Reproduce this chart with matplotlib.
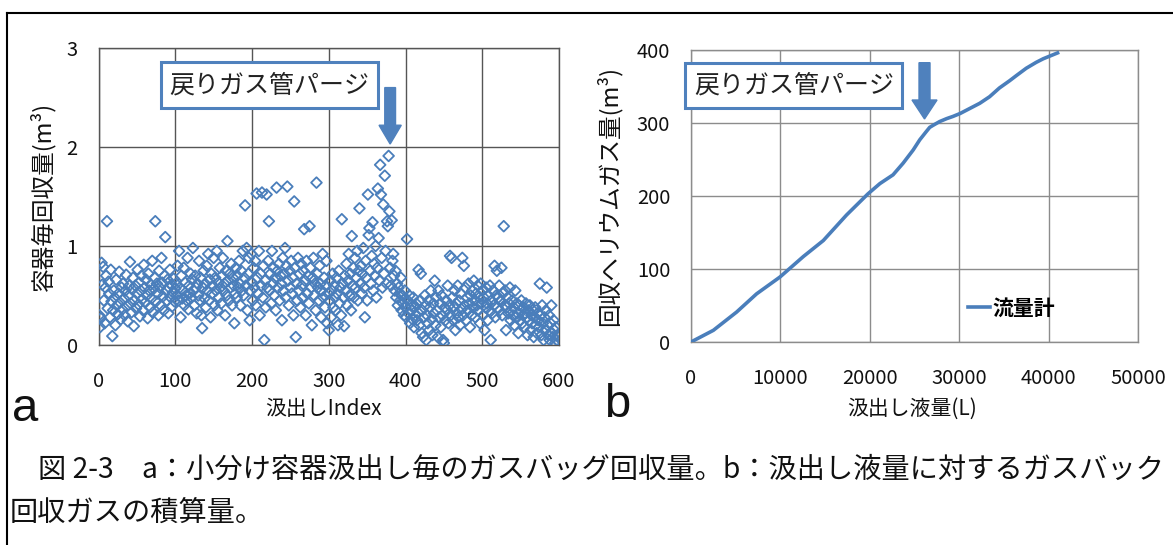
import matplotlib
matplotlib.use("Agg")
import matplotlib.pyplot as plt
from matplotlib.patches import Rectangle, FancyArrow
from matplotlib.lines import Line2D

plt.rcParams['font.family'] = ['Noto Sans CJK JP', 'DejaVu Sans']

# --- data -------------------------------------------------------------
# (a) gas recovered into the bag for each container fill, m^3
recovered_per_fill = [
    0.30, 0.18, 0.27, 0.83, 0.61, 0.79, 0.45, 0.22, 0.58, 0.70, 1.25, 0.37, 0.64, 0.52, 0.28, 0.76, 0.44, 0.09, 0.35, 0.55,
    0.48, 0.20, 0.66, 0.40, 0.31, 0.52, 0.74, 0.43, 0.26, 0.58, 0.36, 0.62, 0.47, 0.30, 0.55, 0.71, 0.39, 0.24, 0.50, 0.60,
    0.84, 0.42, 0.33, 0.56, 0.68, 0.19, 0.45, 0.60, 0.37, 0.52, 0.76, 0.41, 0.63, 0.29, 0.55, 0.70, 0.46, 0.35, 0.81, 0.58,
    0.43, 0.66, 0.50, 0.27, 0.72, 0.55, 0.38, 0.61, 0.47, 0.85, 0.33, 0.57, 0.68, 1.25, 0.44, 0.62, 0.52, 0.30, 0.75, 0.58,
    0.40, 0.88, 0.63, 0.49, 0.35, 0.70, 1.09, 0.55, 0.45, 0.66, 0.32, 0.58, 0.76, 0.48, 0.61, 0.39, 0.53, 0.67, 0.44, 0.57,
    0.62, 0.50, 0.80, 0.45, 0.95, 0.58, 0.28, 0.70, 0.47, 0.55, 0.78, 0.40, 0.63, 0.50, 0.45, 0.88, 0.36, 0.60, 0.52, 0.72,
    0.48, 0.66, 0.98, 0.55, 0.40, 0.70, 0.58, 0.32, 0.62, 0.50, 0.85, 0.45, 0.68, 0.30, 0.17, 0.58, 0.75, 0.47, 0.62, 0.38,
    0.80, 0.55, 0.92, 0.45, 0.66, 0.28, 0.72, 0.52, 0.60, 0.88, 0.40, 0.68, 0.55, 0.95, 0.35, 0.63, 0.48, 0.78, 0.58, 0.42,
    0.70, 0.88, 0.55, 0.62, 0.30, 0.75, 0.50, 1.05, 0.65, 0.45, 0.72, 0.58, 0.82, 0.40, 0.68, 0.60, 0.22, 0.52, 0.78, 0.48,
    0.70, 0.58, 0.85, 0.62, 0.40, 0.75, 0.55, 0.95, 0.50, 0.68, 1.41, 0.60, 0.98, 0.35, 0.72, 0.88, 0.25, 0.55, 0.92, 0.63,
    0.45, 0.78, 0.58, 0.85, 0.40, 1.53, 0.68, 0.52, 0.95, 0.30, 0.72, 0.60, 1.54, 0.48, 0.80, 0.05, 0.65, 0.38, 1.52, 0.58,
    0.85, 1.25, 0.55, 0.72, 0.42, 0.95, 0.62, 0.78, 0.50, 0.68, 0.35, 1.59, 0.75, 0.58, 0.82, 0.45, 0.70, 0.62, 0.25, 0.88,
    0.55, 0.72, 0.98, 0.48, 0.80, 1.60, 0.65, 0.40, 0.75, 0.58, 0.85, 0.52, 0.68, 0.30, 1.45, 0.78, 0.08, 0.62, 0.45, 0.88,
    0.55, 0.72, 0.38, 0.82, 0.60, 0.48, 0.75, 1.17, 0.65, 0.30, 0.85, 0.52, 0.70, 0.42, 1.20, 0.78, 0.58, 0.20, 0.68, 0.88,
    0.50, 0.62, 0.35, 1.64, 0.72, 0.58, 0.45, 0.80, 0.62, 0.28, 0.55, 0.92, 0.48, 0.68, 0.38, 0.60, 0.85, 0.22, 0.52, 0.15,
    0.45, 0.65, 0.28, 0.55, 0.72, 0.38, 0.60, 0.48, 0.35, 0.68, 0.52, 0.20, 0.75, 0.42, 0.58, 0.30, 1.27, 0.62, 0.48, 0.19,
    0.70, 0.55, 0.82, 0.40, 0.65, 0.92, 0.50, 0.72, 0.35, 1.10, 0.60, 0.78, 0.48, 0.88, 0.58, 0.68, 0.95, 0.45, 0.75, 1.38,
    0.62, 0.80, 0.52, 0.72, 0.98, 0.58, 0.28, 0.85, 0.68, 0.45, 1.52, 1.11, 1.18, 0.75, 0.62, 0.90, 1.24, 0.55, 0.82, 0.70,
    1.00, 0.48, 0.78, 1.58, 1.08, 0.65, 1.82, 1.52, 0.88, 0.58, 1.42, 0.72, 1.71, 0.95, 0.62, 1.25, 1.20, 1.91, 1.35, 0.78,
    0.60, 1.26, 0.85, 0.92, 0.70, 0.55, 0.75, 0.48, 0.62, 0.40, 0.58, 0.52, 0.45, 0.68, 0.35, 0.50, 0.42, 0.30, 0.55, 0.38,
    0.28, 1.07, 0.45, 0.32, 0.50, 0.22, 0.40, 0.35, 0.26, 0.48, 0.18, 0.38, 0.30, 0.42, 0.25, 0.33, 0.76, 0.20, 0.45, 0.72,
    0.12, 0.35, 0.08, 0.28, 0.50, 0.40, 0.05, 0.30, 0.22, 0.45, 0.15, 0.38, 0.55, 0.26, 0.10, 0.42, 0.32, 0.65, 0.20, 0.48,
    0.35, 0.08, 0.55, 0.28, 0.42, 0.18, 0.50, 0.30, 0.05, 0.02, 0.38, 0.25, 0.45, 0.35, 0.60, 0.22, 0.40, 0.90, 0.30, 0.88,
    0.48, 0.25, 0.38, 0.55, 0.15, 0.42, 0.32, 0.60, 0.28, 0.45, 0.20, 0.52, 0.36, 0.88, 0.30, 0.80, 0.40, 0.58, 0.25, 0.48,
    0.35, 0.62, 0.42, 0.18, 0.50, 0.30, 0.55, 0.38, 0.65, 0.45, 0.28, 0.52, 0.40, 0.60, 0.35, 0.48, 0.22, 0.62, 0.42, 0.55,
    0.30, 0.48, 0.15, 0.38, 0.58, 0.42, 0.25, 0.50, 0.35, 0.60, 0.05, 0.45, 0.32, 0.55, 0.40, 0.80, 0.28, 0.50, 0.75, 0.38,
    0.48, 0.60, 0.35, 0.45, 0.78, 0.30, 0.52, 1.20, 0.40, 0.55, 0.15, 0.38, 0.48, 0.32, 0.42, 0.58, 0.25, 0.35, 0.45, 0.30,
    0.38, 0.20, 0.55, 0.28, 0.42, 0.32, 0.12, 0.40, 0.25, 0.35, 0.45, 0.22, 0.30, 0.38, 0.18, 0.32, 0.42, 0.28, 0.10, 0.35,
    0.25, 0.40, 0.15, 0.30, 0.22, 0.35, 0.08, 0.28, 0.38, 0.20, 0.12, 0.32, 0.25, 0.18, 0.62, 0.30, 0.10, 0.40, 0.22, 0.05,
    0.28, 0.15, 0.35, 0.58, 0.20, 0.10, 0.30, 0.05, 0.22, 0.40, 0.12, 0.08, 0.25, 0.15, 0.02, 0.18, 0.05, 0.10, 0.08, 0.03,
]
fill_index = list(range(1, len(recovered_per_fill) + 1))

# (b) cumulative recovered helium gas vs. cumulative dispensed liquid
liquid_dispensed = [0, 2500, 5100, 7340, 9950, 12560, 14800, 17400, 19800, 21130, 22600,
                    23730, 24850, 25590, 26300, 26700, 27100, 27820, 28600, 29300, 30100,
                    31200, 32300, 33400, 34500, 35650, 36400, 37500, 38600, 39400, 41000]
gas_cumulative = [0, 16, 41, 66, 89, 117, 139, 174, 203, 217, 229,
                  245, 263, 277, 288, 294, 297, 302, 306, 309, 313,
                  320, 327, 336, 348, 358, 365, 375, 383, 388, 396]

ticks_a_x = [0, 100, 200, 300, 400, 500, 600]
ticks_a_y = [0, 1, 2, 3]
ticks_b_x = [0, 10000, 20000, 30000, 40000, 50000]
ticks_b_y = [0, 100, 200, 300, 400]

purge_label = "戻りガス管パージ"
purge_fill_index = 380
purge_liquid = 26120

# --- styling ----------------------------------------------------------
W, H = 1173, 545
BLUE = "#4A7EBB"
BOX_BLUE = "#4F81BD"
fig = plt.figure(figsize=(W / 100, H / 100), dpi=100)


def fx(px):
    return px / W


def fy(py):
    return 1 - py / H


def style_axes(ax, grid_color):
    ax.grid(True, color=grid_color, linewidth=1.0)
    ax.set_axisbelow(True)
    for sp in ax.spines.values():
        sp.set_color(grid_color)
        sp.set_linewidth(1.0)
    ax.tick_params(length=0, labelsize=14.5, labelcolor="#111111")
    ax.tick_params(axis="x", pad=19)
    ax.tick_params(axis="y", pad=15)


# panel a
ax1 = fig.add_axes([fx(98.5), fy(345), fx(559) - fx(98.5), (345 - 48) / H])
ax1.scatter(fill_index, recovered_per_fill, marker="D", s=30, facecolors="none",
            edgecolors=BLUE, linewidths=1.3, zorder=3)
ax1.set_xlim(0, 600)
ax1.set_ylim(0, 3)
ax1.set_xticks(ticks_a_x)
ax1.set_yticks(ticks_a_y)
style_axes(ax1, "#555555")

# panel b
ax2 = fig.add_axes([fx(691), fy(342), fx(1138) - fx(691), (342 - 50) / H])
ax2.plot(liquid_dispensed, gas_cumulative, color=BLUE, linewidth=2.6,
         label="流量計", zorder=3)
ax2.set_xlim(0, 50000)
ax2.set_ylim(0, 400)
ax2.set_xticks(ticks_b_x)
ax2.set_yticks(ticks_b_y)
style_axes(ax2, "#8C8C8C")
ax2.legend(loc="center left", bbox_to_anchor=(0.62, 0.116), frameon=False,
           handlelength=1.05, handletextpad=0.1, borderpad=0, borderaxespad=0,
           prop={"size": 15, "weight": "bold", "family": ["Noto Sans CJK JP"]})

# purge annotations: boxed label + downward arrow
def purge_note(ax, x0, x1, y0, y1, xa, y_tail, y_tip, shaft, head_w, head_l):
    ax.add_patch(Rectangle((x0, y0), x1 - x0, y1 - y0, facecolor="white",
                           edgecolor=BOX_BLUE, linewidth=2.2, clip_on=False, zorder=5))
    ax.text((x0 + x1) / 2, (y0 + y1) / 2, purge_label, ha="center", va="center",
            fontsize=18, color="#222222", zorder=6, clip_on=False)
    ax.add_patch(FancyArrow(xa, y_tail, 0, y_tip - y_tail, width=shaft,
                            head_width=head_w, head_length=head_l,
                            length_includes_head=True, color=BOX_BLUE,
                            clip_on=False, zorder=5))


purge_note(ax1, 81, 364, 2.39, 2.86, purge_fill_index, 2.60, 2.03, 14, 29, 0.19)
purge_note(ax2, -630, 23630, 320.7, 382.6, purge_liquid, 382.6, 305.5, 1230, 2800, 26)

# axis titles
fig.text(fx(43), fy(196), "容器毎回収量(m³)", rotation=90, ha="center", va="center",
         fontsize=17, color="#111111")
fig.text(fx(609), fy(196), "回収ヘリウムガス量(m³)", rotation=90, ha="center",
         va="center", fontsize=17, color="#111111")
fig.text(fx(323), fy(409), "汲出しIndex", ha="center", va="center", fontsize=15,
         color="#111111")
fig.text(fx(912), fy(409), "汲出し液量(L)", ha="center", va="center", fontsize=15,
         color="#111111")

# panel letters
fig.text(fx(25), fy(409), "a", ha="center", va="center", fontsize=34,
         family="Liberation Sans", color="#111111")
fig.text(fx(617), fy(405), "b", ha="center", va="center", fontsize=34,
         family="Liberation Sans", color="#111111")

# caption
fig.text(fx(38), fy(470), "図 2-3　a：小分け容器汲出し毎のガスバッグ回収量。b：汲出し液量に対するガスバック",
         ha="left", va="center", fontsize=20.3, color="#111111")
fig.text(fx(10), fy(513), "回収ガスの積算量。", ha="left", va="center",
         fontsize=20.3, color="#111111")

# frame lines around the figure block
fig.add_artist(Line2D([fx(7), 1.0], [fy(13), fy(13)], color="black", linewidth=1.5))
fig.add_artist(Line2D([fx(7), fx(7)], [fy(13), 0.0], color="black", linewidth=1.5))

fig.savefig("out.png", dpi=100)
